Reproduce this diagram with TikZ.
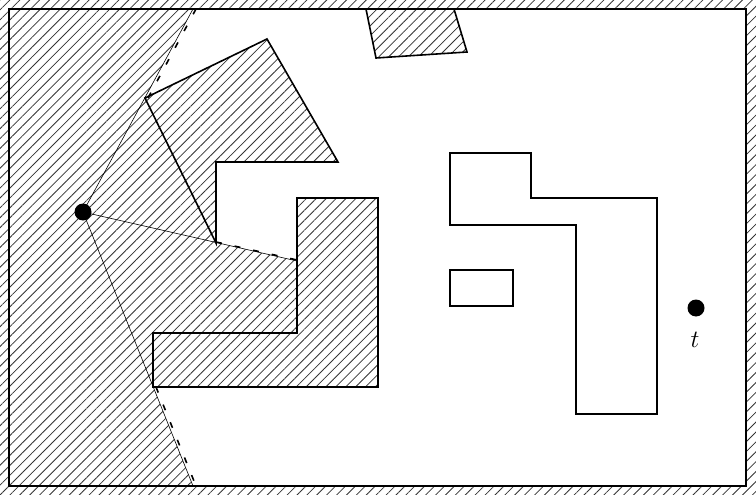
\documentclass[tikz,border=0pt]{standalone}
\usetikzlibrary{patterns.meta}

\tikzstyle{point} = [circle,fill=black,inner sep=0pt,minimum size=17pt]
\tikzstyle{hatched} = [pattern={Lines[angle=45,distance=7pt,line width=0.8pt]},pattern color=black!80]
\tikzstyle{obstacle} = [draw,line width=1.6pt,line join=miter]
\tikzstyle{ray} = [line width=0.6pt]
\tikzstyle{shadow} = [line width=1.6pt,dash pattern=on 6pt off 13pt]

\begin{document}
\begin{tikzpicture}[x=1pt,y=-1pt]
	\useasboundingbox (0,0) rectangle (756,495);
	% outside of the room
	\path[hatched,even odd rule] (0,0) rectangle (756,495) (9,9) rectangle (746,486);
	% part not seen from s
	\path[hatched] (9,9) -- (193,9) -- (145,98) -- (267,39) -- (338,162) -- (216,162) -- (216,243)
		-- (297,261) -- (297,198) -- (378,198) -- (378,387) -- (153,387) -- (193,486) -- (9,486) -- cycle;
	\path[hatched] (366,9) -- (454,9) -- (467,52) -- (376,58) -- cycle;
	\draw[line width=2.4pt] (9,9) rectangle (746,486);
	% obstacles
	\draw[obstacle] (145,98) -- (267,39) -- (338,162) -- (216,162) -- (216,243) -- cycle;
	\draw[obstacle] (297,198) -- (378,198) -- (378,387) -- (153,387) -- (153,333) -- (297,333) -- cycle;
	\draw[obstacle] (366,9) -- (376,58) -- (467,52) -- (454,9);
	\draw[obstacle] (450,153) -- (531,153) -- (531,198) -- (657,198) -- (657,414) -- (576,414) -- (576,225) -- (450,225) -- cycle;
	\draw[obstacle] (450,270) rectangle (513,306);
	% points
	\node[point] (s) at (83,212) {};
	\node[point] (t) at (696,308) {};
	\node[font=\fontsize{24}{28}\selectfont] (tl) at (695,340) {$t$};
	\coordinate (a) at (145,98);
	\coordinate (b) at (216,243);
	\coordinate (c) at (297,261);
	\coordinate (d) at (153,387);
	\coordinate (e) at (193,9);
	\coordinate (f) at (193,486);
	% rays from s
	\draw[ray] (s.center) -- (e);
	\draw[ray] (s.center) -- (c);
	\draw[ray] (s.center) -- (f);
	\draw[shadow] ([xshift=3pt]e) -- ([xshift=3pt]a);
	\draw[shadow] ([yshift=1pt]b) -- ([yshift=1pt]c);
	\draw[shadow] ([xshift=3pt]d) -- ([xshift=3pt]f);
\end{tikzpicture}
\end{document}
